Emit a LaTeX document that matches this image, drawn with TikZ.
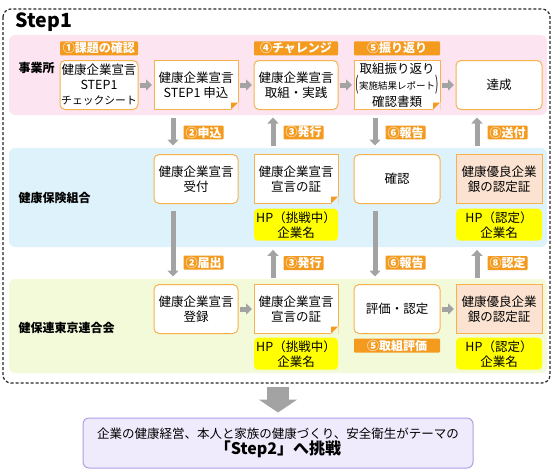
\documentclass[tikz,border=0pt]{standalone}
\usepackage{fontspec}
\setmainfont{Noto Sans CJK JP}
\usetikzlibrary{arrows.meta,positioning,calc}
\definecolor{tagorange}{HTML}{F39A1F}
\definecolor{edgeorange}{HTML}{F7B24E}
\definecolor{bandpink}{HTML}{FCE5F1}
\definecolor{bandblue}{HTML}{DDF2FA}
\definecolor{bandgreen}{HTML}{F3FAD9}
\definecolor{certpeach}{HTML}{FCE3D1}
\definecolor{hpyellow}{HTML}{FFFF00}
\definecolor{goalfill}{HTML}{EFEBFC}
\definecolor{goaledge}{HTML}{AE9FE6}
\definecolor{arrowgray}{HTML}{A3A3A3}

\tikzset{
  box/.style={draw=edgeorange, line width=1pt, fill=white, rounded corners=5pt,
    minimum width=84pt, minimum height=49pt, align=center, inner sep=0pt, outer sep=0pt,
    font=\fontsize{12.5}{15}\selectfont},
  notebox/.style={box, rounded corners=0pt},
  certbox/.style={box, rounded corners=0pt, fill=certpeach, minimum width=86pt},
  hpbox/.style={fill=hpyellow, rounded corners=4pt, minimum width=84pt, minimum height=32pt,
    align=center, inner sep=0pt, font=\fontsize{12.5}{15}\selectfont},
  steptag/.style={fill=tagorange, text=white, rounded corners=1pt, inner xsep=2pt, inner ysep=1.2pt,
    font=\bfseries\fontsize{12}{13}\selectfont},
  headtag/.style={steptag, minimum width=84pt, minimum height=14pt, inner ysep=0pt},
  rowlabel/.style={anchor=west, font=\bfseries\fontsize{12}{14}\selectfont},
  flow/.style={draw=arrowgray, line width=5pt, -{Triangle[width=11pt,length=6pt]}},
  frame/.style={draw=black!85, line width=1.2pt, dash pattern=on 3pt off 2pt, rounded corners=8pt}
}

% folded corner of a sheet: #1 node, #2 colour behind it
\newcommand\dogear[2]{%
  \fill[#2] ($(#1.south east)+(-7.6,0.6)$) -- ($(#1.south east)+(0.6,0.6)$) -- ($(#1.south east)+(0.6,-7.6)$) -- cycle;
  \fill[tagorange] ($(#1.south east)+(-7,0)$) -- ($(#1.south east)+(0,-7)$) -- ($(#1.south east)+(-7,-7)$) -- cycle;}

\begin{document}
\begin{tikzpicture}[x=1pt, y=-1pt, node distance=5pt]
  \useasboundingbox (0,0) rectangle (555,475);

  % frame and bands
  \draw[frame] (3,9) rectangle (550,383);
  \node[anchor=west, font=\bfseries\fontsize{19.5}{20}\selectfont] (title) at (12,22) {Step1};
  \fill[bandpink, rounded corners=6pt] (9,35) rectangle (547,115);
  \fill[bandblue, rounded corners=6pt] (9,148) rectangle (547,247);
  \fill[bandgreen, rounded corners=6pt] (9,279) rectangle (547,373);
  \node[rowlabel] (r1) at (15,68) {事業所};
  \node[rowlabel] (r2) at (15,198) {健康保険組合};
  \node[rowlabel] (r3) at (15,328) {健保連東京連合会};

  % 事業所
  \node[box, minimum width=78pt] (b1) at (99,85) {健康企業宣言\\STEP1\\{\fontsize{10.8}{15}\selectfont チェックシート}};
  \node[notebox] (b2) at (196,85) {健康企業宣言\\STEP1 申込};
  \node[box] (b3) at (296,85) {健康企業宣言\\取組・実践};
  \node[notebox, minimum width=86pt] (b4) at (397,85) {取組振り返り\\\raisebox{-1pt}{\scalebox{0.8}[1.5]{(}}{\fontsize{9.5}{15}\selectfont 実施結果レポート}\raisebox{-1pt}{\scalebox{0.8}[1.5]{)}}\\確認書類};
  \node[box, minimum width=86pt] (b5) at (499,85) {達成};
  \dogear{b2}{bandpink}
  \dogear{b4}{bandpink}
  \node[headtag, minimum width=78pt, above=5pt of b1] (t1) {①課題の確認};
  \node[headtag, above=5pt of b3] (t4) {④チャレンジ};
  \node[headtag, minimum width=86pt, above=5pt of b4] (t5) {⑤振り返り};

  % 健康保険組合
  \node[box] (k1) at (196,179) {健康企業宣言\\受付};
  \node[notebox] (k2) at (296,179) {健康企業宣言\\宣言の証};
  \node[box, minimum width=86pt] (k3) at (397,179) {確認};
  \node[certbox] (k4) at (499,179) {健康優良企業\\銀の認定証};
  \dogear{k2}{bandblue}
  \node[hpbox, below=5pt of k2] (k2hp) {HP（挑戦中）\\企業名};
  \node[hpbox, minimum width=86pt, below=5pt of k4] (k4hp) {HP（認定）\\企業名};

  % 健保連東京連合会
  \node[box] (g1) at (196,309) {健康企業宣言\\登録};
  \node[notebox] (g2) at (296,309) {健康企業宣言\\宣言の証};
  \node[box, minimum width=86pt] (g3) at (397,309) {評価・認定};
  \node[certbox] (g4) at (499,309) {健康優良企業\\銀の認定証};
  \dogear{g2}{bandgreen}
  \node[hpbox, below=4pt of g2] (g2hp) {HP（挑戦中）\\企業名};
  \node[headtag, minimum width=86pt, below=5pt of g3] (t5b) {⑤取組評価};
  \node[hpbox, minimum width=86pt, below=4pt of g4] (g4hp) {HP（認定）\\企業名};

  % flow along rows
  \draw[flow, shorten <=2pt, shorten >=2pt] (b1) -- (b2);
  \draw[flow, shorten <=2pt, shorten >=2pt] (b2) -- (b3);
  \draw[flow, shorten <=2pt, shorten >=2pt] (b3) -- (b4);
  \draw[flow, shorten <=2pt, shorten >=2pt] (b4) -- (b5);
  \draw[flow, shorten <=2pt, shorten >=2pt] (g1) -- (g2);
  \draw[flow, shorten <=2pt, shorten >=2pt] (g3) -- (g4);

  % flow between rows
  \draw[flow, shorten <=8pt, shorten >=9pt] ([xshift=-23pt]b2.south) -- ([xshift=-23pt]k1.north)
    node[steptag, pos=.51, anchor=west, xshift=8pt] {②申込};
  \draw[flow, shorten <=9pt, shorten >=8pt] ([xshift=-23pt]k2.north) -- ([xshift=-23pt]b3.south)
    node[steptag, pos=.49, anchor=west, xshift=8pt] {③発行};
  \draw[flow, shorten <=8pt, shorten >=9pt] ([xshift=-22pt]b4.south) -- ([xshift=-22pt]k3.north)
    node[steptag, pos=.51, anchor=west, xshift=8pt] {⑥報告};
  \draw[flow, shorten <=9pt, shorten >=8pt] ([xshift=-22pt]k4.north) -- ([xshift=-22pt]b5.south)
    node[steptag, pos=.49, anchor=west, xshift=8pt] {⑧送付};
  \draw[flow, shorten <=7pt, shorten >=8pt] ([xshift=-23pt]k1.south) -- ([xshift=-23pt]g1.north)
    node[steptag, pos=.73, anchor=west, xshift=8pt] {②届出};
  \draw[flow, shorten <=7pt, shorten >=9pt] ([xshift=-23pt]g2.north) -- ([xshift=-23pt]k2hp.south)
    node[steptag, pos=.49, anchor=west, xshift=8pt] {③発行};
  \draw[flow, shorten <=7pt, shorten >=8pt] ([xshift=-22pt]k3.south) -- ([xshift=-22pt]g3.north)
    node[steptag, pos=.73, anchor=west, xshift=8pt] {⑥報告};
  \draw[flow, shorten <=7pt, shorten >=9pt] ([xshift=-22pt]g4.north) -- ([xshift=-22pt]k4hp.south)
    node[steptag, pos=.49, anchor=west, xshift=8pt] {⑧認定};

  % next step
  \node[draw=goaledge, line width=1pt, fill=goalfill, rounded corners=6pt, minimum width=390pt,
    minimum height=50pt, align=center, inner sep=0pt] (goal) at (278,443)
    {\fontsize{12.5}{17}\selectfont 企業の健康経営、本人と家族の健康づくり、安全衛生がテーマの\\
     {\bfseries\fontsize{16}{18}\selectfont 「Step2」へ挑戦}};
  \coordinate (framefoot) at (278,383);
  \draw[draw=arrowgray, line width=22pt, -{Triangle[width=38pt,length=13pt]}, shorten <=4pt, shorten >=5pt]
    (framefoot) -- (goal);
\end{tikzpicture}
\end{document}
